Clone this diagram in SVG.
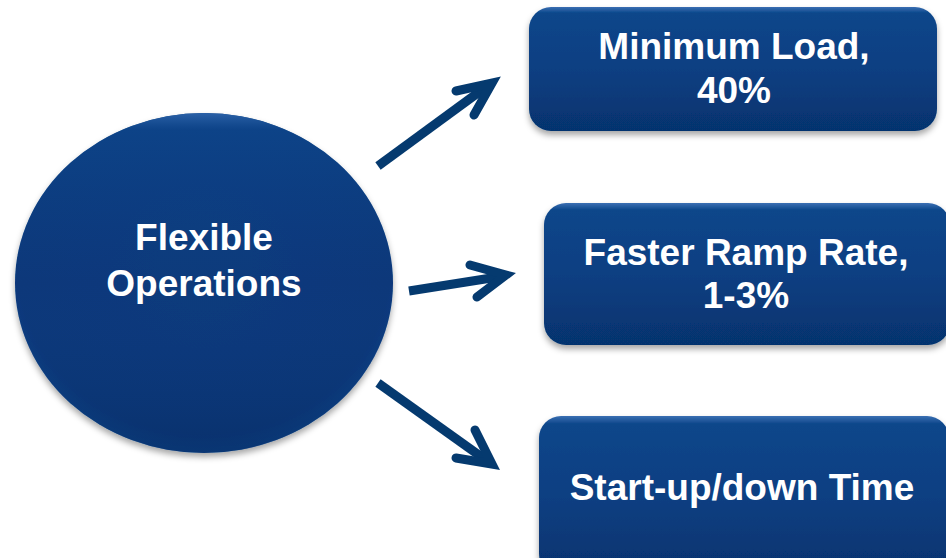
<svg xmlns="http://www.w3.org/2000/svg" width="946" height="558" viewBox="0 0 946 558">
  <defs>
    <linearGradient id="boxFill" x1="0" y1="0" x2="0" y2="1">
      <stop offset="0" stop-color="#3a6fb3"/>
      <stop offset="0.05" stop-color="#0c468a"/>
      <stop offset="0.5" stop-color="#093f82"/>
      <stop offset="1" stop-color="#06336e"/>
    </linearGradient>
    <radialGradient id="circFill" cx="0.5" cy="0.45" r="0.55">
      <stop offset="0" stop-color="#073b7c"/>
      <stop offset="0.9" stop-color="#07377a"/>
      <stop offset="1" stop-color="#0b4286"/>
    </radialGradient>
    <linearGradient id="circShade" x1="0" y1="0" x2="0" y2="1">
      <stop offset="0" stop-color="#2f66ad" stop-opacity="0.9"/>
      <stop offset="0.05" stop-color="#0d4a90" stop-opacity="0.6"/>
      <stop offset="0.5" stop-color="#0a4286" stop-opacity="0"/>
      <stop offset="1" stop-color="#04285c" stop-opacity="0.45"/>
    </linearGradient>
    <filter id="shadow" x="-10%" y="-10%" width="120%" height="130%">
      <feDropShadow dx="0" dy="4" stdDeviation="3" flood-color="#000" flood-opacity="0.35"/>
    </filter>
  </defs>
  <style>
    .lbl { font-family: "Liberation Sans", Arial, sans-serif; font-weight: bold; font-size: 37px; fill: #ffffff; text-anchor: middle; }
    .box { fill: url(#boxFill); filter: url(#shadow); }
    .shaft { fill: none; stroke: #053a6f; stroke-width: 9; stroke-linecap: butt; }
    .head { fill: none; stroke: #053a6f; stroke-width: 9; stroke-linecap: round; stroke-linejoin: miter; stroke-miterlimit: 10; }
  </style>

  <rect width="946" height="558" fill="#ffffff"/>

  <!-- central topic -->
  <g id="flexible-operations">
    <ellipse cx="204" cy="283" rx="189" ry="170" fill="url(#circFill)" filter="url(#shadow)"/>
    <ellipse cx="204" cy="283" rx="189" ry="170" fill="url(#circShade)"/>
    <text class="lbl" x="204" y="250">Flexible</text>
    <text class="lbl" x="204" y="296">Operations</text>
  </g>

  <!-- outcomes -->
  <g id="minimum-load">
    <rect class="box" x="529" y="7" width="408" height="124" rx="22"/>
    <text class="lbl" x="734" y="59">Minimum Load,</text>
    <text class="lbl" x="734" y="103">40%</text>
  </g>

  <g id="ramp-rate">
    <rect class="box" x="544" y="203" width="406" height="142" rx="22"/>
    <text class="lbl" x="746" y="265">Faster Ramp Rate,</text>
    <text class="lbl" x="746" y="308">1-3%</text>
  </g>

  <g id="startup-time">
    <rect class="box" x="539" y="416" width="410" height="160" rx="22"/>
    <text class="lbl" x="742" y="500">Start-up/down Time</text>
  </g>

  <!-- connectors -->
  <g id="connectors">
    <line class="shaft" x1="378" y1="166" x2="490" y2="84"/>
    <polyline class="head" points="456,91 492,83 474,115"/>

    <line class="shaft" x1="409" y1="291" x2="504" y2="276"/>
    <polyline class="head" points="470,265 506,275 477,297"/>

    <line class="shaft" x1="378" y1="383" x2="490" y2="463"/>
    <polyline class="head" points="475,430 492,464 456,458"/>
  </g>
</svg>
